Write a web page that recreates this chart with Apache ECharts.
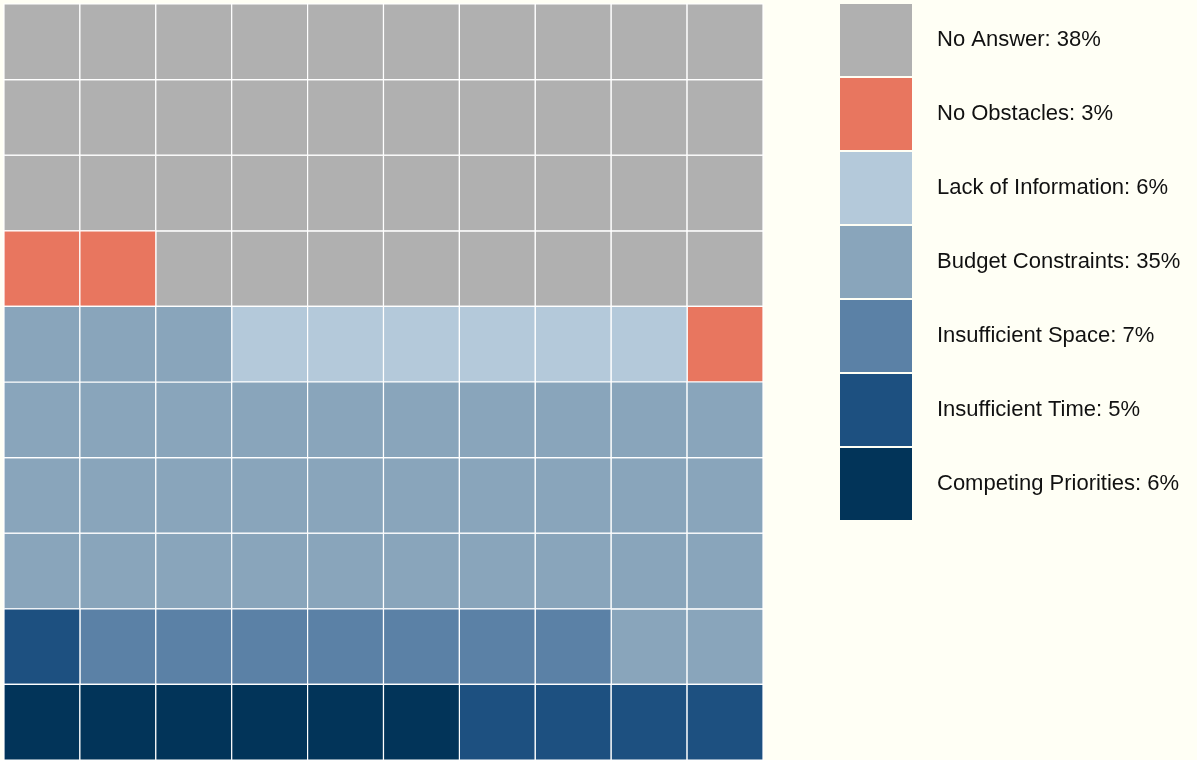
<!DOCTYPE html>
<html>
<head>
<meta charset="utf-8">
<script src="https://cdn.jsdelivr.net/npm/echarts@6/dist/echarts.min.js"></script>
<style>
html,body{margin:0;padding:0;background:#fffff5;}
#chart{width:1197px;height:760px;}
</style>
</head>
<body>
<div id="chart"></div>
<script>
// Legend order (top to bottom)
const categories = ["No Answer", "No Obstacles", "Lack of Information", "Budget Constraints", "Insufficient Space", "Insufficient Time", "Competing Priorities"];
const counts = [38, 3, 6, 35, 7, 5, 6];
const colors = ["#b0b0b0", "#e8765f", "#b4c9da", "#89a5bb", "#5b81a6", "#1d5080", "#023459"];
const cols = [0,1,2,3,4,5,6,7,8,9];
const rows = [0,1,2,3,4,5,6,7,8,9];

// Fill cells row by row from the bottom-left, starting with the last legend entry
const cellData = categories.map(() => []);
let idx = 0;
for (let c = categories.length - 1; c >= 0; c--) {
  for (let k = 0; k < counts[c]; k++) {
    cellData[c].push([idx % 10, Math.floor(idx / 10)]);
    idx++;
  }
}

const chart = echarts.init(document.getElementById('chart'));
const series = categories.map((name, i) => ({
  type: 'custom',
  name: name + ': ' + counts[i] + '%',
  data: cellData[i],
  itemStyle: { color: colors[i] },
  renderItem: function (params, api) {
    const p = api.coord([api.value(0), api.value(1)]);
    const s = api.size([1, 1]);
    return {
      type: 'rect',
      shape: { x: p[0] - s[0] / 2, y: p[1] - s[1] / 2, width: s[0], height: s[1] },
      style: { fill: colors[i], stroke: '#ffffff', lineWidth: 1.2 }
    };
  }
}));

chart.setOption({
  backgroundColor: '#fffff5',
  animation: false,
  grid: { left: 4, top: 4, width: 759, height: 759 },
  xAxis: { type: 'category', data: cols, show: false },
  yAxis: { type: 'category', data: rows, show: false },
  legend: {
    orient: 'vertical',
    left: 840,
    top: 4,
    padding: 0,
    itemWidth: 72,
    itemHeight: 72,
    itemGap: 2,
    icon: 'rect',
    selectedMode: false,
    itemStyle: { borderWidth: 0 },
    textStyle: { fontFamily: 'Liberation Sans, Arial, sans-serif', fontSize: 22, color: '#111', padding: [0, 0, 0, 20] },
    data: series.map(s => s.name)
  },
  series: series
});
</script>
</body>
</html>
